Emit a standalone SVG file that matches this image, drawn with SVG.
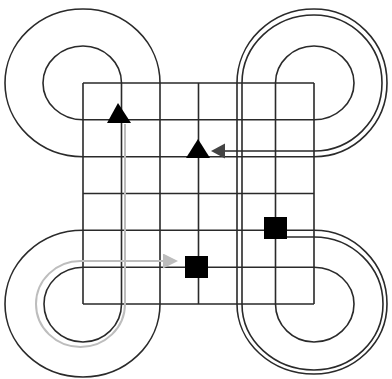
<svg xmlns="http://www.w3.org/2000/svg" width="392" height="379" viewBox="0 0 392 379">
<style>
.g{fill:none;stroke:#2a2a2a;stroke-width:1.6}
.c{fill:none;stroke:#2a2a2a;stroke-width:1.6}
.cg{fill:none;stroke:#bdbdbd;stroke-width:2}
.n{fill:#000}
</style>
<defs>
<marker id="ag" markerUnits="userSpaceOnUse" markerWidth="16" markerHeight="16" refX="0" refY="7.5" orient="auto"><path d="M0,0 L15,7.5 L0,15 z" fill="#bdbdbd"/></marker>
<marker id="ad" markerUnits="userSpaceOnUse" markerWidth="16" markerHeight="16" refX="0" refY="7.5" orient="auto"><path d="M0,0 L14,7.5 L0,15 z" fill="#444"/></marker>
</defs>
<rect width="392" height="379" fill="#fff"/>
<g id="grid" class="g">
<path d="M83,83 V304 M121.5,83 V304 M160,83 V304 M198.5,83 V304 M237,83 V304 M275.5,83 V304 M314,83 V304"/>
<path d="M83,83 H314 M83,119.8 H314 M83,156.7 H314 M83,193.5 H314 M83,230.3 H314 M83,267.2 H314 M83,304 H314"/>
<path d="M121.5,83 A38.5,37 0 0 0 83,46 A40,37 0 0 0 43,83 A40,36.8 0 0 0 83,119.8"/>
<path d="M160,83 A77,74 0 0 0 83,9 A78,74 0 0 0 5,83 A78,73.7 0 0 0 83,156.7"/>
<path d="M275.5,83 A38.5,37 0 0 1 314,46 A40,37 0 0 1 354,83 A40,36.8 0 0 1 314,119.8"/>
<path d="M237,83 A77,74 0 0 1 314,9 A73,74 0 0 1 387,83 A73,73.7 0 0 1 314,156.7"/>
<path d="M314,267.2 A40,36.8 0 0 1 354,304 A40,38 0 0 1 314,342 A38.5,38 0 0 1 275.5,304"/>
<path d="M314,230.3 A73,73.7 0 0 1 387,304 A73,70 0 0 1 314,374 A77,70 0 0 1 237,304"/>
<path d="M121.5,304 A38.5,38 0 0 1 83,342 A39,38 0 0 1 44,304 A39,36.8 0 0 1 83,267.2"/>
<path d="M160,304 A77,73 0 0 1 83,377 A78,73 0 0 1 5,304 A78,73.7 0 0 1 83,230.3"/>
</g>
<g id="connectors">
<path class="cg" d="M125,124 V304 A44.5,43 0 0 1 80.5,347 A44.5,43 0 0 1 36,304 A44.5,43 0 0 1 80.5,261 H163" marker-end="url(#ag)"/>
<path class="c" d="M287,237 H314 A69,67 0 0 1 383,304 A69,66 0 0 1 314,370 A72,66 0 0 1 242,304 V83 A72,68 0 0 1 314,15 A68,68 0 0 1 382,83 A68,68 0 0 1 314,151 H225" marker-end="url(#ad)"/>
</g>
<g id="tri1"><polygon class="n" points="118,103 107,123 131,123"/></g>
<g id="tri2"><polygon class="n" points="198,139 186,158 210,158"/></g>
<g id="sq1"><rect class="n" x="185" y="256" width="23" height="22"/></g>
<g id="sq2"><rect class="n" x="264" y="217" width="23" height="22"/></g>
</svg>
